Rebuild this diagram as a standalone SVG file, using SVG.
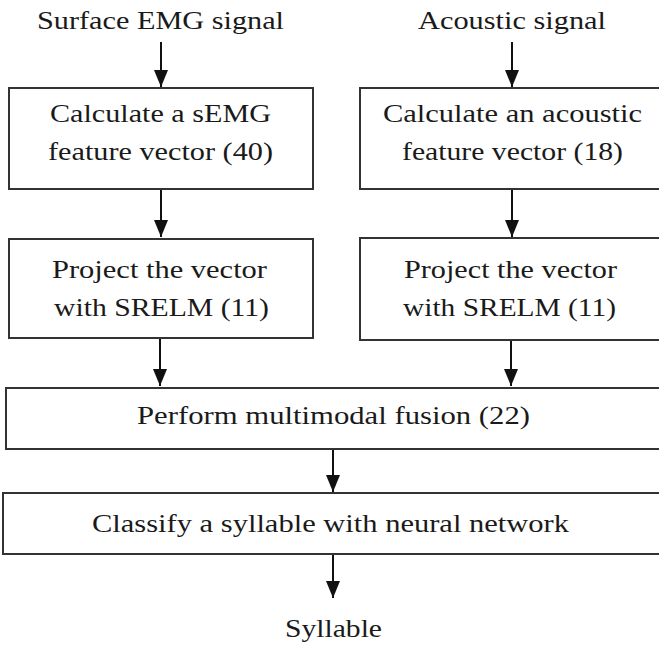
<svg xmlns="http://www.w3.org/2000/svg" width="659" height="646" viewBox="0 0 659 646">
<style>
.box{fill:#fff;stroke:#333;stroke-width:2}
text{font-family:'Liberation Serif','Times New Roman',Times,serif;font-size:26px;fill:#1a1a1a}
.c{stroke:#111;stroke-width:2;fill:none}
</style>
<defs>
<marker id="ah" markerUnits="userSpaceOnUse" markerWidth="17" markerHeight="14" refX="17" refY="7" orient="auto" viewBox="0 0 17 14">
<path d="M0,0 L17,7 L0,14 Z" fill="#111"/>
</marker>
</defs>
<rect width="659" height="646" fill="#fff"/>
<g id="connectors">
<line class="c" x1="161" y1="42" x2="161" y2="87" marker-end="url(#ah)"/>
<line class="c" x1="512" y1="42" x2="512" y2="87" marker-end="url(#ah)"/>
<line class="c" x1="161" y1="189" x2="161" y2="237" marker-end="url(#ah)"/>
<line class="c" x1="512" y1="189" x2="512" y2="237" marker-end="url(#ah)"/>
<line class="c" x1="160" y1="338" x2="160" y2="386" marker-end="url(#ah)"/>
<line class="c" x1="511" y1="340" x2="511" y2="386" marker-end="url(#ah)"/>
<line class="c" x1="333" y1="449" x2="333" y2="492" marker-end="url(#ah)"/>
<line class="c" x1="333" y1="554" x2="333" y2="598" marker-end="url(#ah)"/>
</g>
<g id="in-emg">
<text x="37" y="29" textLength="247" lengthAdjust="spacingAndGlyphs">Surface EMG signal</text>
</g>
<g id="in-acoustic">
<text x="418" y="29" textLength="188" lengthAdjust="spacingAndGlyphs">Acoustic signal</text>
</g>
<g id="calc-semg">
<rect class="box" x="9" y="88" width="304" height="101"/>
<text x="50" y="122" textLength="221" lengthAdjust="spacingAndGlyphs">Calculate a sEMG</text>
<text x="48" y="160" textLength="225" lengthAdjust="spacingAndGlyphs">feature vector (40)</text>
</g>
<g id="calc-acoustic">
<rect class="box" x="360" y="88" width="310" height="101"/>
<text x="383" y="122" textLength="259" lengthAdjust="spacingAndGlyphs">Calculate an acoustic</text>
<text x="402" y="160" textLength="221" lengthAdjust="spacingAndGlyphs">feature vector (18)</text>
</g>
<g id="proj-semg">
<rect class="box" x="9" y="239" width="304" height="99"/>
<text x="52" y="278" textLength="215" lengthAdjust="spacingAndGlyphs">Project the vector</text>
<text x="54" y="316" textLength="215" lengthAdjust="spacingAndGlyphs">with SRELM (11)</text>
</g>
<g id="proj-acoustic">
<rect class="box" x="360" y="238" width="310" height="102"/>
<text x="404" y="278" textLength="213" lengthAdjust="spacingAndGlyphs">Project the vector</text>
<text x="403" y="316" textLength="213" lengthAdjust="spacingAndGlyphs">with SRELM (11)</text>
</g>
<g id="fusion">
<rect class="box" x="6" y="388" width="670" height="61"/>
<text x="137" y="424" textLength="393" lengthAdjust="spacingAndGlyphs">Perform multimodal fusion (22)</text>
</g>
<g id="classify">
<rect class="box" x="3" y="493" width="670" height="61"/>
<text x="92" y="532" textLength="477" lengthAdjust="spacingAndGlyphs">Classify a syllable with neural network</text>
</g>
<g id="out-syllable">
<text x="285" y="637" textLength="97" lengthAdjust="spacingAndGlyphs">Syllable</text>
</g>
</svg>
